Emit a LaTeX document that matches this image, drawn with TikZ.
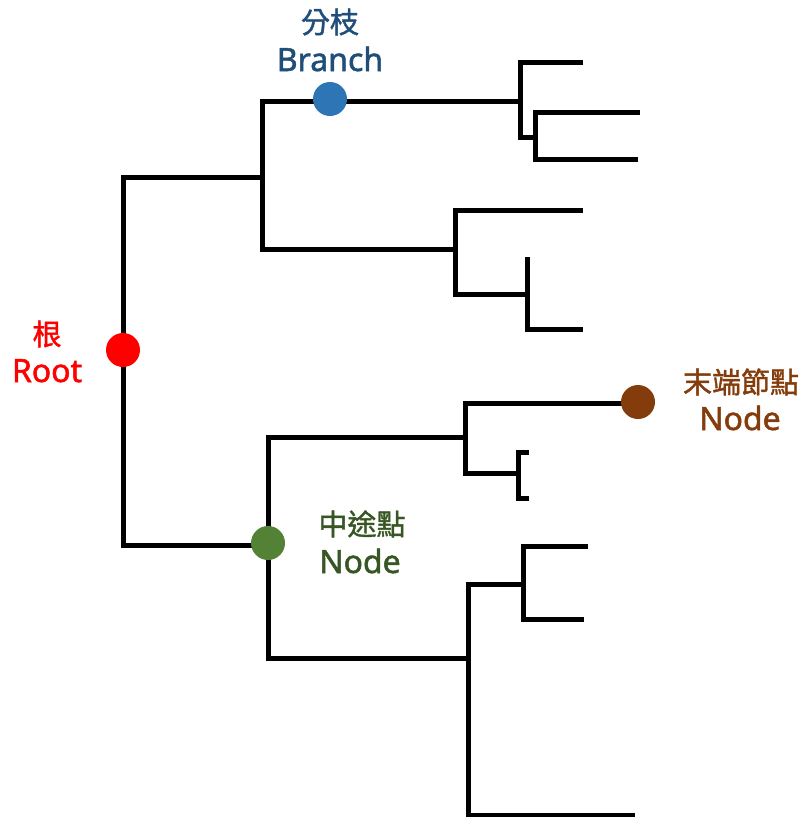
\documentclass[tikz,border=0pt]{standalone}
\usepackage{fontspec}
\setmainfont{Noto Sans}[FakeBold=1.6]
\newfontfamily\cjk{Noto Sans CJK TC}[FakeBold=1.4]
\definecolor{rootred}{HTML}{FF0000}
\definecolor{brblue}{HTML}{2E75B6}
\definecolor{brtext}{HTML}{1F4E79}
\definecolor{midgreen}{HTML}{538135}
\definecolor{midtext}{HTML}{375623}
\definecolor{leafbrown}{HTML}{843C0C}
\begin{document}
\begin{tikzpicture}[x=1pt,y=-1pt,
  tree/.style={line width=5pt, black, line join=miter},
  dot/.style={circle, inner sep=0pt, minimum size=34pt, draw=none},
  zh/.style={anchor=base, inner sep=0pt, font=\cjk\fontsize{29}{29}\selectfont},
  en/.style={anchor=base, inner sep=0pt, font=\fontsize{32}{32}\selectfont}]
\useasboundingbox (0,0) rectangle (807,817);
% coordinates of the tree joints
\coordinate (r1) at (123,177);
\coordinate (r2) at (123,545);
\coordinate (a1) at (262,177);
\coordinate (a2) at (262,101);
\coordinate (a3) at (262,249);
\coordinate (b1) at (520,101);
% upper clade
\draw[tree] (a1) -- (r1) -- (r2) -- (268,545);
\draw[tree] (b1) -- (a2) -- (a3) -- (455,249);
\draw[tree] (583,62) -- (520,62) -- (520,137) -- (535,137);
\draw[tree] (640,112) -- (535,112) -- (535,159) -- (638,159);
\draw[tree] (583,210) -- (455,210) -- (455,294) -- (527,294);
\draw[tree] (527,257) -- (527,329) -- (583,329);
% lower clade
\draw[tree] (465,437) -- (268,437) -- (268,658) -- (468,658);
\draw[tree] (638,403) -- (465,403) -- (465,473) -- (518,473);
\draw[tree] (529,452) -- (518,452) -- (518,498) -- (529,498);
\draw[tree] (523,584) -- (468,584) -- (468,815) -- (635,815);
\draw[tree] (588,546) -- (523,546) -- (523,619) -- (584,619);
% dots
\node[dot, fill=rootred] (root) at (123,350) {};
\node[dot, fill=brblue] (branch) at (330,99) {};
\node[dot, fill=midgreen] (mid) at (268,543) {};
\node[dot, fill=leafbrown] (leaf) at (638,402) {};
% labels
\node[zh, text=rootred] (rootzh) at (47,345) {根};
\node[en, text=rootred] (rooten) at (47,382) {Root};
\node[zh, text=brtext] (brzh) at (330,33) {分枝};
\node[en, text=brtext] (bren) at (330,71) {Branch};
\node[zh, text=midtext] (midzh) at (362,535) {中途點};
\node[en, text=midtext] (miden) at (360,573) {Node};
\node[zh, text=leafbrown] (leafzh) at (741,393) {末端節點};
\node[en, text=leafbrown] (leafen) at (740,430) {Node};
\end{tikzpicture}
\end{document}
